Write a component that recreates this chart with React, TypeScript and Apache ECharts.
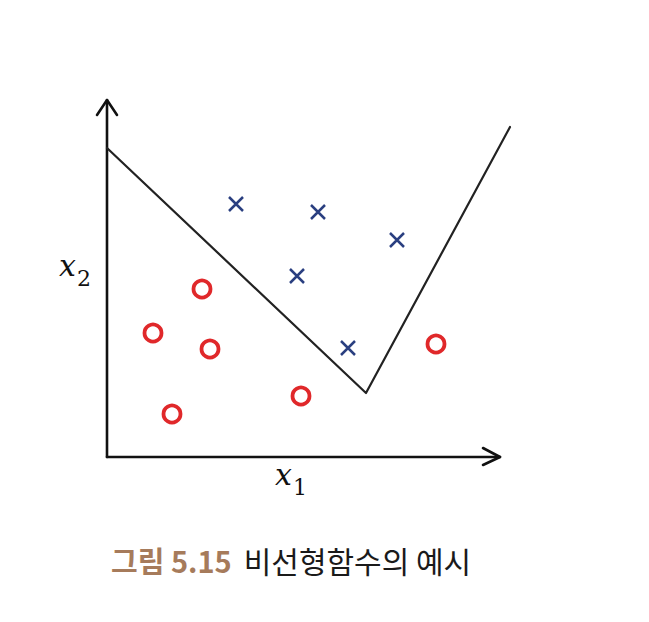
import React, { useEffect, useRef } from "react";
import * as echarts from "echarts";

// Data units: horizontal / vertical distance from the origin of the x1-x2 axes
const xAxisLinePts = [[0, 0], [393, 0]];
const xArrowPts = [[376, 9], [393, 0], [376, -8]];
const yAxisLinePts = [[0, 0], [0, 357]];
const yArrowPts = [[-10, 342], [0, 357], [10, 342]];
const boundaryPts = [[0, 309], [259, 64], [403, 330]];
const crossPts = [[129, 253], [211, 245], [290, 217], [190, 181], [241, 109]];
const circlePts = [[95, 168], [46, 124], [103, 108], [65, 43], [194, 61], [329, 113]];
const xLabel = "1";
const yLabel = "2";
const captionNum = "그림 5.15";
const captionText = "비선형함수의 예시";

const lineSeries = (data: number[][], width: number, color: string) => ({
  type: "line",
  data,
  symbol: "none",
  clip: false,
  silent: true,
  lineStyle: { color, width, cap: "round", join: "round", opacity: 1 },
});

const labelRich = {
  i: { fontFamily: "DejaVu Serif", fontStyle: "italic", fontSize: 30, fill: "#111", verticalAlign: "bottom", lineHeight: 36 },
  s: { fontFamily: "DejaVu Serif", fontSize: 22, fill: "#111", verticalAlign: "bottom", lineHeight: 24, padding: [0, 0, -9, 1] },
};

export default function App() {
  const ref = useRef<HTMLDivElement>(null);
  useEffect(() => {
    document.body.style.margin = "0";
    const chart = echarts.init(ref.current!, null, { renderer: "svg" });
    chart.setOption({
      animation: false,
      backgroundColor: "#ffffff",
      grid: { left: 87, top: 90, width: 430, height: 387 },
      xAxis: { type: "value", min: -20, max: 410, show: false },
      yAxis: { type: "value", min: -20, max: 367, show: false },
      series: [
        lineSeries(xAxisLinePts, 2.6, "#111"),
        lineSeries(xArrowPts, 2.6, "#111"),
        lineSeries(yAxisLinePts, 2.6, "#111"),
        lineSeries(yArrowPts, 2.6, "#111"),
        lineSeries(boundaryPts, 2.2, "#222"),
        {
          type: "scatter",
          data: crossPts,
          clip: false,
          symbol: "path://M0,0L10,10M10,0L0,10",
          symbolSize: 14,
          itemStyle: { color: "transparent", borderColor: "#2a3f80", borderWidth: 2.5, opacity: 1 },
        },
        {
          type: "scatter",
          data: circlePts,
          clip: false,
          symbol: "circle",
          symbolSize: 17,
          itemStyle: { color: "transparent", borderColor: "#e0282a", borderWidth: 3.8, opacity: 1 },
        },
      ],
      graphic: [
        {
          type: "text",
          left: 59,
          top: 250,
          style: { text: "{i|x}{s|" + yLabel + "}", rich: labelRich },
        },
        {
          type: "text",
          left: 275,
          top: 459,
          style: { text: "{i|x}{s|" + xLabel + "}", rich: labelRich },
        },
        {
          type: "text",
          left: 111,
          top: 545,
          style: {
            text: "{a|" + captionNum + "}{b|" + captionText + "}",
            rich: {
              a: { fontFamily: "Noto Sans CJK KR", fontWeight: "bold", fontSize: 29, fill: "#a67b5b" },
              b: { fontFamily: "Noto Sans CJK KR", fontWeight: "normal", fontSize: 30, fill: "#1a1a1a", padding: [0, 0, 0, 12] },
            },
          },
        },
      ],
    });
    return () => chart.dispose();
  }, []);
  return <div ref={ref} style={{ width: 649, height: 622 }} />;
}
